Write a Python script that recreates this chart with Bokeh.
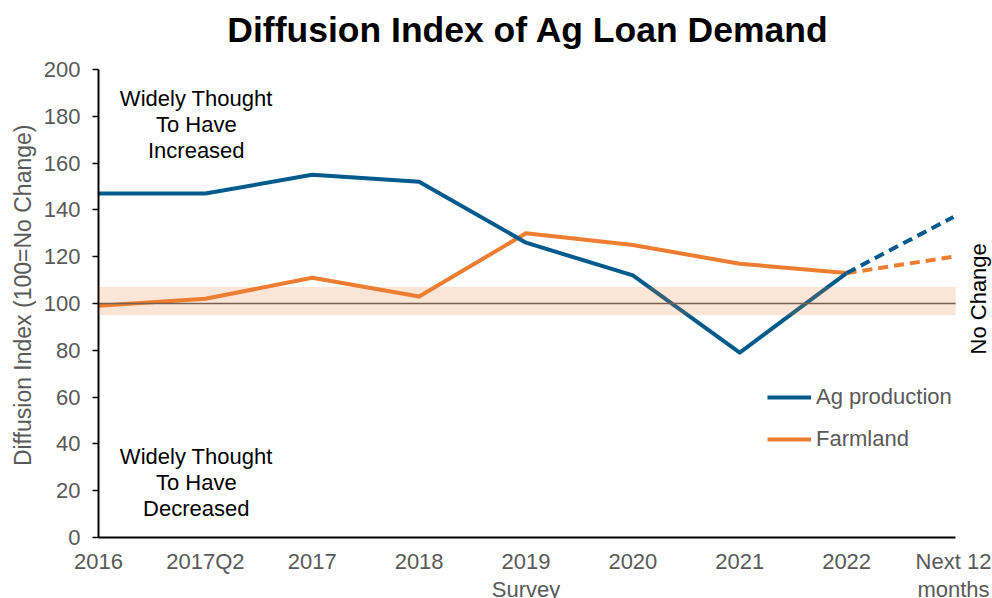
import math
from bokeh.plotting import figure
from bokeh.models import (Range1d, FixedTicker, Legend, LegendItem,
                          Label, BoxAnnotation, ColumnDataSource)
from bokeh.embed import file_html
from bokeh.resources import INLINE

# ---- data ----
title = "Diffusion Index of Ag Loan Demand"
categories = ["2016", "2017Q2", "2017", "2018", "2019", "2020", "2021", "2022", "Next 12\nmonths"]
ag_production = [147, 147, 155, 152, 126, 112, 79, 113, 137]
farmland = [99, 102, 111, 103, 130, 125, 117, 113, 120]
no_change = 100
band_low, band_high = 95, 107
y_ticks = [0, 20, 40, 60, 80, 100, 120, 140, 160, 180, 200]
x_axis_title = "Survey"
y_axis_title = "Diffusion Index (100=No Change)"

BLUE = "#005A8C"
ORANGE = "#ED7D31"
GRAY = "#595959"
FONT = "Liberation Sans"

xs = list(range(len(categories)))
n_hist = len(categories) - 1  # last point is the forecast
x_axis_end = xs[-1] + 0.02    # axis line / band end
y_min, y_max = y_ticks[0], y_ticks[-1]

# The frame covers the whole canvas (axes fixed at 0) so that no text is clipped.
p = figure(width=992, height=598, x_range=Range1d(-0.917, 8.365), y_range=Range1d(-26.07, 229.49),
           output_backend="svg", toolbar_location=None,
           min_border_left=0, min_border_right=0, min_border_top=0, min_border_bottom=0)
p.outline_line_color = None
p.xgrid.visible = False
p.ygrid.visible = False

# lines: solid history, dashed forecast
src_ag = ColumnDataSource(dict(x=xs[:n_hist], y=ag_production[:n_hist]))
src_fa = ColumnDataSource(dict(x=xs[:n_hist], y=farmland[:n_hist]))
r_fa = p.line("x", "y", source=src_fa, line_color=ORANGE, line_width=4, line_join="round")
r_ag = p.line("x", "y", source=src_ag, line_color=BLUE, line_width=4, line_join="round")
p.line(xs[n_hist - 1:], farmland[n_hist - 1:], line_color=ORANGE, line_width=4, line_dash="10 6")
p.line(xs[n_hist - 1:], ag_production[n_hist - 1:], line_color=BLUE, line_width=4, line_dash="10 6")

# "no change" reference line and band
p.line([xs[0], x_axis_end], [no_change, no_change], line_color=GRAY, line_width=1.5)
p.add_layout(BoxAnnotation(left=xs[0], right=x_axis_end, bottom=band_low, top=band_high,
                           fill_color=ORANGE, fill_alpha=0.2, line_color=None, level="overlay"))

# y axis, fixed at x = 0
ya = p.yaxis[0]
ya.fixed_location = xs[0]
ya.bounds = (y_min, y_max)
ya.ticker = FixedTicker(ticks=y_ticks)
ya.axis_line_color = "black"
ya.axis_line_width = 2
ya.major_tick_line_color = "black"
ya.major_tick_line_width = 1.5
ya.major_tick_out = 6
ya.major_tick_in = 0
ya.minor_tick_line_color = None
ya.major_label_text_font = FONT
ya.major_label_text_font_size = "22px"
ya.major_label_text_color = GRAY
ya.major_label_standoff = 12

# y axis title
p.add_layout(Label(x=-0.711, y=103.5, text=y_axis_title, angle=math.pi / 2,
                   text_font=FONT, text_font_size="23px", text_color=GRAY,
                   text_align="center", text_baseline="middle"))

# x axis, fixed at y = 0
first_lines = [c.split("\n")[0] for c in categories]
xa = p.xaxis[0]
xa.fixed_location = y_min
xa.bounds = (xs[0], x_axis_end)
xa.ticker = FixedTicker(ticks=xs)
xa.major_label_overrides = {i: t for i, t in enumerate(first_lines)}
xa.axis_line_color = "black"
xa.axis_line_width = 2
xa.major_tick_line_color = None
xa.minor_tick_line_color = None
xa.major_label_text_font = FONT
xa.major_label_text_font_size = "22px"
xa.major_label_text_color = GRAY
xa.major_label_standoff = 6

# second row of the x labels (continuation line + axis title)
p.add_layout(Label(x=xs[-1], y=-22.2, text=categories[-1].split("\n")[1],
                   text_font=FONT, text_font_size="22px", text_color=GRAY,
                   text_align="center", text_baseline="middle"))
p.add_layout(Label(x=(xs[0] + xs[-1]) / 2, y=-22.2, text=x_axis_title,
                   text_font=FONT, text_font_size="22px", text_color=GRAY,
                   text_align="center", text_baseline="middle"))

# title
p.add_layout(Label(x=4.02, y=216.7, text=title,
                   text_font=FONT, text_font_size="35.5px", text_font_style="bold",
                   text_color="black", text_align="center", text_baseline="middle"))

# legend
legend = Legend(items=[LegendItem(label="Ag production", renderers=[r_ag]),
                       LegendItem(label="Farmland", renderers=[r_fa])],
                location=(767, 146), background_fill_alpha=0, border_line_color=None,
                label_text_font=FONT, label_text_font_size="22px", label_text_color=GRAY,
                glyph_width=44, glyph_height=20, label_standoff=5, spacing=16,
                padding=0, margin=0)
p.add_layout(legend)

# annotations
p.add_layout(Label(x=0.915, y=193, text="Widely Thought\nTo Have\nIncreased",
                   text_font=FONT, text_font_size="22px", text_color="black",
                   text_align="center", text_baseline="top", text_line_height=1.04))
p.add_layout(Label(x=0.915, y=40, text="Widely Thought\nTo Have\nDecreased",
                   text_font=FONT, text_font_size="22px", text_color="black",
                   text_align="center", text_baseline="top", text_line_height=1.04))
p.add_layout(Label(x=8.235, y=102, text="No Change", angle=math.pi / 2,
                   text_font=FONT, text_font_size="22px", text_color="black",
                   text_align="center", text_baseline="middle"))

open("out.html", "w").write(file_html(p, INLINE))
